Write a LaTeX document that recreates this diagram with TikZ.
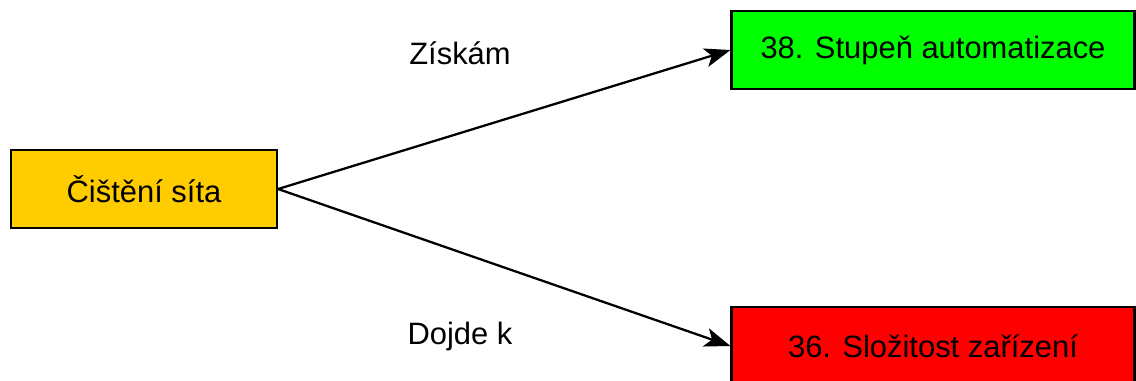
\documentclass[tikz,border=0pt]{standalone}
\usepackage{fontspec}
\setmainfont{Liberation Sans}
\usepackage{tikz}
\usetikzlibrary{arrows.meta}
\definecolor{boxyellow}{HTML}{FFCC00}
\definecolor{boxgreen}{HTML}{00FF00}
\definecolor{boxred}{HTML}{FF0000}
\tikzstyle{param}=[
        draw=black,
        line width=1.2pt,
        minimum height=1.56cm,
        inner sep=0pt,
        font=\fontsize{17.6}{20}\selectfont
]
\tikzstyle{link}=[
        line width=1.3pt,
        -{Stealth[length=0.52cm,width=0.38cm,inset=0.13cm]}
]

\begin{document}
\begin{tikzpicture}[x=0.02cm,y=-0.02cm]
                        \useasboundingbox (0,0) rectangle (1136,380);

                        \node[param,fill=boxyellow,minimum width=5.32cm] (src) at (144,189) {Čištění síta};
                        \node[param,fill=boxgreen,minimum width=8.06cm] (up) at (933,50) {38. Stupeň automatizace};
                        \node[param,fill=boxred,minimum width=8.06cm] (down) at (933,346) {36. Složitost zařízení};

                        \node[font=\fontsize{17.6}{20}\selectfont] (gain) at (460,53) {Získám};
                        \node[font=\fontsize{17.6}{20}\selectfont] (loss) at (460,336) {Dojde k};

                        \draw[link] (src.east) -- (up.west);
                        \draw[link] (src.east) -- (down.west);

                    \end{tikzpicture}
\end{document}
